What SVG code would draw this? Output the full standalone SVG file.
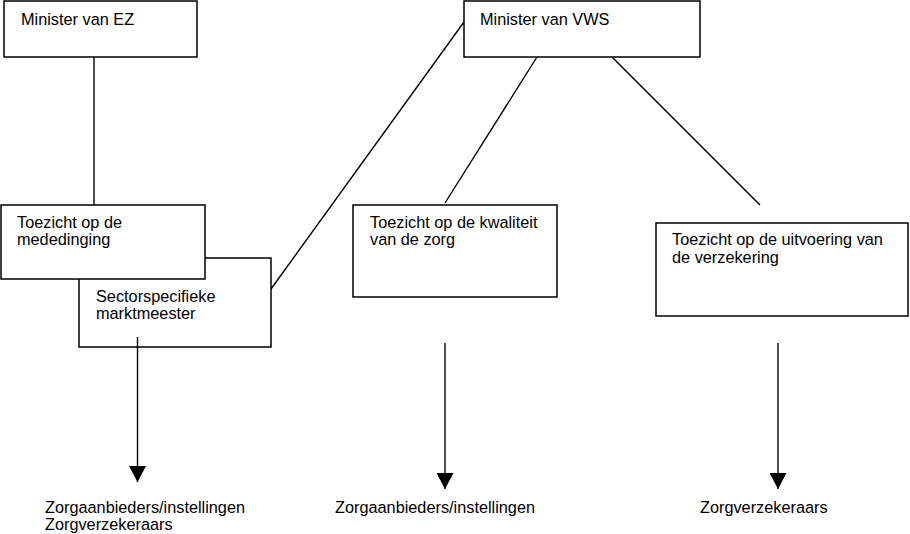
<svg xmlns="http://www.w3.org/2000/svg" width="910" height="534" viewBox="0 0 910 534">
<style>
.box{fill:#fff;stroke:#000;stroke-width:1.5}
.ln{stroke:#000;stroke-width:1.4;fill:none}
text{font-family:"Liberation Sans",Arial,sans-serif;font-size:16.3px;fill:#000}
</style>
<defs>
<marker id="ah" viewBox="0 0 16 17" refX="16" refY="8.5" markerWidth="16" markerHeight="17" markerUnits="userSpaceOnUse" orient="auto">
<path d="M0,0 L16,8.5 L0,17 Z" fill="#000"/>
</marker>
</defs>
<rect width="910" height="534" fill="#fff"/>
<g id="connectors">
<line class="ln" x1="94" y1="57" x2="94" y2="205"/>
<line class="ln" x1="271" y1="289" x2="464" y2="22"/>
<line class="ln" x1="537" y1="57" x2="445" y2="203"/>
<line class="ln" x1="612" y1="57" x2="760" y2="205"/>
</g>
<g id="minister-ez">
<rect class="box" x="4" y="1" width="193" height="56"/>
<text x="21" y="25">Minister van EZ</text>
</g>
<g id="minister-vws">
<rect class="box" x="464" y="1" width="236" height="56"/>
<text x="480" y="25">Minister van VWS</text>
</g>
<g id="sector">
<rect class="box" x="79" y="258" width="192" height="89"/>
<text x="96" y="302">Sectorspecifieke</text>
<text x="96" y="319">marktmeester</text>
</g>
<g id="mededinging">
<rect class="box" x="1" y="205" width="204" height="74"/>
<text x="17" y="228">Toezicht op de</text>
<text x="17" y="245">mededinging</text>
</g>
<g id="kwaliteit">
<rect class="box" x="353" y="205" width="204" height="92"/>
<text x="370" y="228">Toezicht op de kwaliteit</text>
<text x="370" y="245">van de zorg</text>
</g>
<g id="uitvoering">
<rect class="box" x="656" y="223" width="252" height="93"/>
<text x="672" y="245">Toezicht op de uitvoering van</text>
<text x="672" y="263">de verzekering</text>
</g>
<g id="arrows">
<line class="ln" x1="137.5" y1="337" x2="137.5" y2="482" marker-end="url(#ah)"/>
<line class="ln" x1="445" y1="343" x2="445" y2="489" marker-end="url(#ah)"/>
<line class="ln" x1="778" y1="343" x2="778" y2="489" marker-end="url(#ah)"/>
</g>
<g id="targets">
<text x="45" y="513">Zorgaanbieders/instellingen</text>
<text x="45" y="530">Zorgverzekeraars</text>
<text x="335" y="513">Zorgaanbieders/instellingen</text>
<text x="700" y="513">Zorgverzekeraars</text>
</g>
</svg>
